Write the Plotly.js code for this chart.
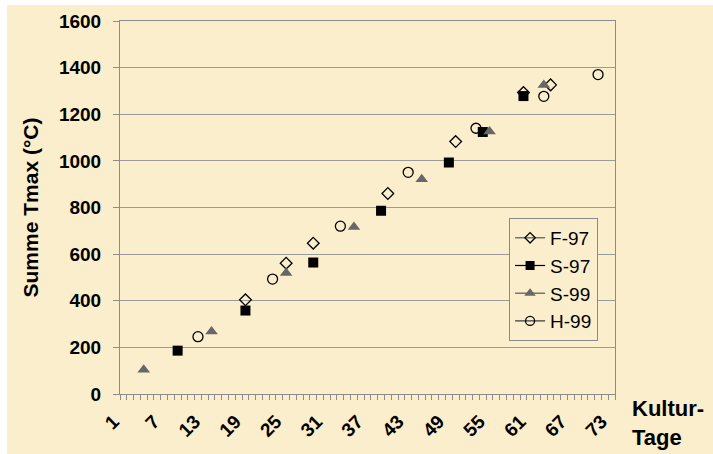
<!DOCTYPE html>
<html>
<head>
<meta charset="utf-8">
<script src="https://cdn.plot.ly/plotly-3.0.1.min.js"></script>
<style>
  html, body { margin: 0; padding: 0; background: #ffffff; }
  #chart { position: absolute; left: 7px; top: 5px; width: 706px; height: 449px; }
</style>
</head>
<body>
<div id="chart"></div>
<script>
// Data
const f97Days = [19, 25, 29, 40, 50, 60, 64];
const f97Sum  = [404, 561, 647, 860, 1083, 1293, 1326];

const s97Days = [9, 19, 29, 39, 49, 54, 60];
const s97Sum  = [186, 358, 564, 786, 993, 1124, 1278];

const s99Days = [4, 14, 25, 35, 45, 55, 63];
const s99Sum  = [104, 268, 519, 716, 921, 1126, 1326];

const h99Days = [12, 23, 33, 43, 53, 63, 71];
const h99Sum  = [246, 493, 720, 951, 1140, 1277, 1370];

const xTickVals = [1, 7, 13, 19, 25, 31, 37, 43, 49, 55, 61, 67, 73];
const xTickText = ['1', '7', '13', '19', '25', '31', '37', '43', '49', '55', '61', '67', '73'];

const seriesNames = ['F-97', 'S-97', 'S-99', 'H-99'];

const BG = '#FAEECC';
const FONT = 'Liberation Sans, Arial, sans-serif';

const styles = [
  { symbol: 'diamond-open', color: '#000000', size: 9, lw: 1.3, line: '#555555' },
  { symbol: 'square', color: '#000000', size: 10, lw: 0, line: '#000000' },
  { symbol: 'triangle-up', color: '#676767', size: 11, lw: 0, line: '#555555' },
  { symbol: 'circle-open', color: '#000000', size: 10, lw: 1.3, line: '#333333' }
];
const xs = [f97Days, s97Days, s99Days, h99Days];
const ys = [f97Sum, s97Sum, s99Sum, h99Sum];

const traces = [];
for (let i = 0; i < 4; i++) {
  const st = styles[i];
  traces.push({
    type: 'scatter', mode: 'markers', name: seriesNames[i],
    x: xs[i], y: ys[i], showlegend: false,
    marker: { symbol: st.symbol, color: st.color, size: st.size,
              line: { color: st.color, width: st.lw } },
    cliponaxis: false
  });
}
// legend entries (line + marker, as in the reference legend)
for (let i = 0; i < 4; i++) {
  const st = styles[i];
  traces.push({
    type: 'scatter', mode: 'lines+markers', name: seriesNames[i],
    x: [null], y: [null], legendgroup: 'g' + i,
    line: { color: st.line, width: 1.2 },
    marker: { symbol: st.symbol, color: st.color, size: st.size - 1,
              line: { color: st.color, width: st.lw } }
  });
}

const layout = {
  width: 706, height: 449,
  margin: { l: 113, r: 98, t: 16, b: 60 },
  paper_bgcolor: BG, plot_bgcolor: BG,
  font: { family: FONT, color: '#000000' },
  showlegend: true,
  legend: {
    x: 0.786, y: 0.472, xanchor: 'left', yanchor: 'top',
    bgcolor: BG, bordercolor: '#8a8a8a', borderwidth: 1,
    font: { family: FONT, size: 19, color: '#000000' },
    traceorder: 'grouped', tracegroupgap: 0
  },
  xaxis: {
    range: [0.5, 73.5],
    tickmode: 'array', tickvals: xTickVals, ticktext: xTickText,
    tickangle: -45, ticks: '',
    ticklabelshift: -10, ticklabelstandoff: 8,
    tickfont: { family: FONT, size: 19, weight: 700 },
    showgrid: false, zeroline: false,
    showline: true, mirror: true, linecolor: '#8c8c8c', linewidth: 1,
    minor: { ticks: 'outside', ticklen: 5, tickcolor: '#8c8c8c', tickwidth: 1,
             tick0: 0.5, dtick: 1, showgrid: false }
  },
  yaxis: {
    range: [0, 1600], dtick: 200, tick0: 0,
    ticks: 'outside', ticklen: 6, tickcolor: '#8c8c8c',
    ticklabelstandoff: 8,
    tickfont: { family: FONT, size: 19, weight: 700 },
    showgrid: true, gridcolor: '#9a9a9a', gridwidth: 1, zeroline: false,
    showline: true, mirror: true, linecolor: '#8c8c8c', linewidth: 1,
    title: { text: 'Summe Tmax (°C)', standoff: 14,
             font: { family: FONT, size: 21, weight: 700, color: '#000000' } }
  },
  annotations: [{
    xref: 'paper', yref: 'paper', x: 1.03, y: 0.0,
    xanchor: 'left', yanchor: 'top', align: 'left', showarrow: false,
    text: 'Kultur-<br>Tage',
    font: { family: FONT, size: 22, weight: 700, color: '#000000' }
  }]
};

Plotly.newPlot('chart', traces, layout, { displayModeBar: false, staticPlot: true });
</script>
</body>
</html>
